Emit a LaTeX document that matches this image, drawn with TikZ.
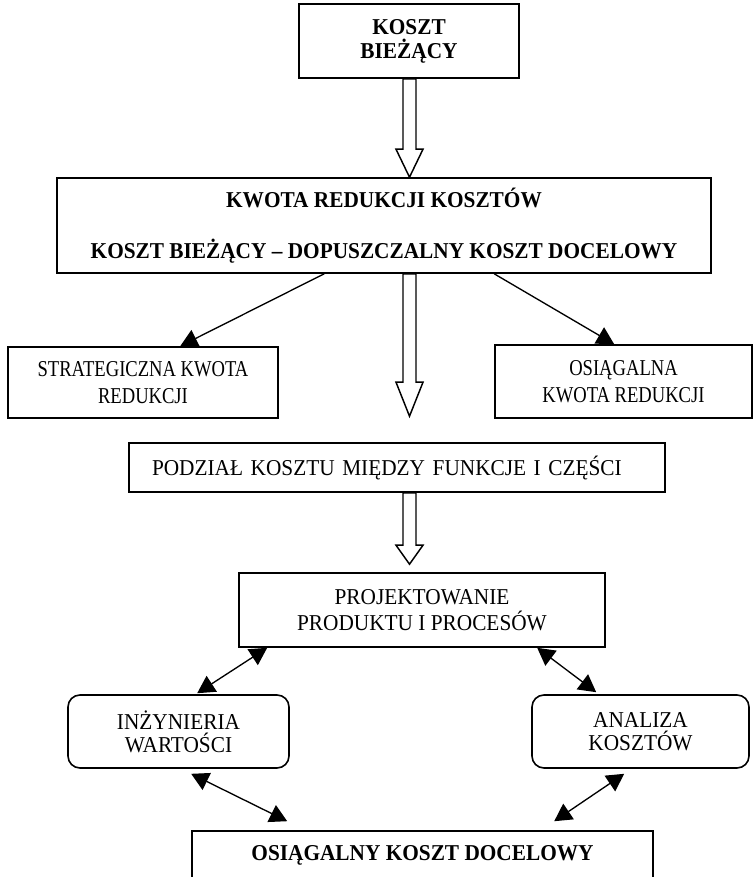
\documentclass[tikz,border=0pt]{standalone}
\usepackage{fontspec}
\setmainfont{Liberation Serif}[FakeStretch=0.94]
\newfontfamily\narrowfont{Liberation Serif}[FakeStretch=0.82]
\usetikzlibrary{arrows.meta,calc}
\begin{document}
\begin{tikzpicture}[x=0.75pt,y=-0.75pt,
  box/.style={draw, line width=1.2pt, inner sep=0pt, align=center,
    font=\fontsize{17}{18}\selectfont},
  rbox/.style={box, rounded corners=9pt},
  tip/.style={},
  conn/.style={line width=1pt, -{Triangle[length=13pt,width=14pt]}},
  biconn/.style={line width=1pt, {Triangle[length=13pt,width=14pt]}-{Triangle[length=13pt,width=14pt]}},
  hollow/.style={draw, line width=1.1pt, line join=miter, fill=white,
    to path={let \p1=(\tikztostart), \p2=(\tikztotarget) in
      (\x1-4.875pt,\y1) -- (\x1-4.875pt,\y2+#1) -- (\x1-10.125pt,\y2+#1) -- (\x1,\y2)
      -- (\x1+10.125pt,\y2+#1) -- (\x1+4.875pt,\y2+#1) -- (\x1+4.875pt,\y1) -- cycle}}
]
\useasboundingbox[fill=white] (0,0) rectangle (754,877);

\node[box, minimum width=165pt, minimum height=55.5pt] (A) at (409,41)
  {\bfseries KOSZT\\\bfseries BIEŻĄCY};
\node[box, minimum width=490.5pt, minimum height=71.25pt,
  font=\fontsize{17}{38}\selectfont] (B) at (384,225.5)
  {\bfseries KWOTA REDUKCJI KOSZTÓW\\\bfseries KOSZT BIEŻĄCY – DOPUSZCZALNY KOSZT DOCELOWY};
\node[box, minimum width=202.5pt, minimum height=53.25pt,
  font=\fontsize{17}{20}\selectfont\narrowfont] (C) at (143,382.5)
  {STRATEGICZNA KWOTA\\REDUKCJI};
\node[box, minimum width=192.75pt, minimum height=54.75pt,
  font=\fontsize{17}{20}\selectfont\narrowfont] (D) at (623.5,381.5)
  {OSIĄGALNA\\KWOTA REDUKCJI};
\node[box, inner xsep=17.25pt, text width=367.5pt, align=left,
  minimum height=36.75pt] (E) at (397,467.5)
  {PODZIAŁ KOSZTU MIĘDZY FUNKCJE I CZĘŚCI};
\node[box, minimum width=274.5pt, minimum height=55.5pt,
  font=\fontsize{17}{19}\selectfont] (F) at (422,610)
  {PROJEKTOWANIE\\PRODUKTU I PROCESÓW};
\node[rbox, minimum width=165.75pt, minimum height=54.75pt,
  font=\fontsize{17}{17.5}\selectfont] (G) at (178.5,731.5)
  {INŻYNIERIA\\WARTOŚCI};
\node[rbox, minimum width=162.75pt, minimum height=54.75pt,
  font=\fontsize{17}{17.5}\selectfont] (H) at (640.5,731.5)
  {ANALIZA\\KOSZTÓW};
\node[box, minimum width=345.75pt, minimum height=36pt] (I) at (422.5,855)
  {\bfseries OSIĄGALNY KOSZT DOCELOWY};

\coordinate (ax) at (409.5,0);
\draw[hollow=21pt] (A.south -| ax) to (B.north -| ax);
\draw[hollow=25.5pt] (B.south -| ax) to ($(E.north -| ax)+(0,-26)$);
\draw[hollow=14.25pt] (E.south -| ax) to ($(F.north -| ax)+(0,-8)$);

\draw[conn] ($(B.south west)+(268,0)$) -- ($(C.north west)+(173,0)$);
\draw[conn] ($(B.south west)+(438,0)$) -- ($(D.north west)+(120,0)$);

\draw[biconn] ($(F.south west)+(29,0)$) -- ($(G.north west)+(130,-1)$);
\draw[biconn] ($(F.south west)+(299,0)$) -- ($(H.north west)+(65,-2)$);
\draw[biconn] ($(G.south west)+(124,5)$) -- ($(I.north west)+(96,-9)$);
\draw[biconn] ($(H.south west)+(93,5)$) -- ($(I.north west)+(363,-9)$);
\end{tikzpicture}
\end{document}
